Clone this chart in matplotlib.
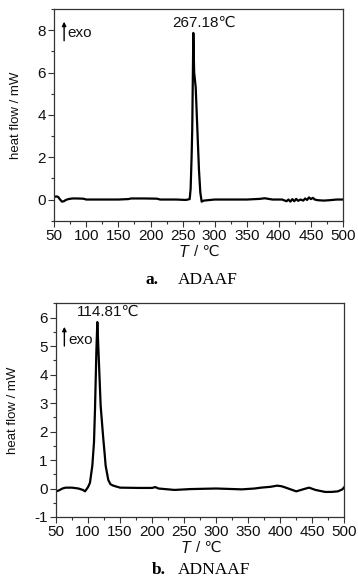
import matplotlib
matplotlib.use("Agg")
import matplotlib.pyplot as plt
from matplotlib.ticker import MultipleLocator

# DSC curve of ADAAF (panel a)
temp_a = [50, 53, 56, 59, 62, 65, 68, 72, 78, 85, 95, 100, 120, 150, 165, 170, 190, 210,
          215, 240, 255, 261, 262.5, 264, 265, 266.7, 268, 270.4, 273, 275.5, 277.6, 279.7,
          283, 300, 350, 370, 378, 390, 405, 412, 415, 418, 421, 424, 427, 430, 434, 438,
          441, 444, 447, 450, 453, 456, 460, 470, 480, 490, 500]
flow_a = [0.12, 0.15, 0.12, 0.0, -0.1, -0.08, -0.02, 0.02, 0.05, 0.05, 0.04, 0.0, 0.0, 0.0, 0.02,
          0.05, 0.05, 0.04, 0.0, 0.0, -0.02, 0.02, 0.5, 2.0, 3.3, 7.87, 6.0, 5.3, 3.3, 1.4, 0.33, -0.1,
          -0.05, 0.0, 0.0, 0.03, 0.06, 0.0, 0.0, -0.08, 0.0, -0.1, 0.02, -0.08, 0.03, -0.06, 0.0, -0.05,
          0.05, -0.02, 0.1, 0.02, 0.08, 0.0, -0.03, -0.05, -0.03, 0.0, 0.0]

# DSC curve of ADNAAF (panel b)
temp_b = [50, 53, 56, 60, 65, 75, 85, 92, 95.3, 100, 103, 106.7, 109.3, 110.9, 113, 114.5,
          116, 119.7, 123.8, 126, 127.5, 131.6, 135, 139.4, 150, 180, 200, 205, 210, 235,
          260, 300, 340, 360, 370, 385, 395, 402, 410, 425, 440, 445, 455, 470, 480, 490,
          497, 500]
flow_b = [-0.1, -0.08, -0.05, 0.0, 0.03, 0.03, 0.0, -0.05, -0.1, 0.05, 0.2, 0.8, 1.62, 2.8, 4.8,
          5.84, 5.0, 2.9, 1.75, 1.2, 0.8, 0.3, 0.15, 0.1, 0.03, 0.02, 0.02, 0.05, 0.0, -0.05,
          -0.02, 0.0, -0.03, 0.0, 0.03, 0.06, 0.1, 0.08, 0.02, -0.1, 0.0, 0.03, -0.05, -0.12,
          -0.12, -0.1, -0.03, 0.05]

peak_a = "267.18℃"
peak_b = "114.81℃"
captions = [("a.", "ADAAF"), ("b.", "ADNAAF")]

sans = ["Liberation Sans Narrow", "Liberation Sans", "DejaVu Sans"]
serif = ["Liberation Serif", "DejaVu Serif"]
plt.rcParams["font.family"] = sans
plt.rcParams["axes.unicode_minus"] = False

W, H = 358, 584
fig = plt.figure(figsize=(W / 100, H / 100), dpi=100)


def px_box(left, top, right, bottom):
    return [left / W, 1 - bottom / H, (right - left) / W, (bottom - top) / H]


def style_axes(ax, ylim, ymajor, yminor, xlab_y):
    ax.set_xlim(50, 500)
    ax.set_ylim(*ylim)
    ax.xaxis.set_major_locator(MultipleLocator(50))
    ax.xaxis.set_minor_locator(MultipleLocator(25))
    ax.yaxis.set_major_locator(MultipleLocator(ymajor))
    ax.yaxis.set_minor_locator(MultipleLocator(yminor))
    ax.tick_params(which="both", direction="out", top=False, right=False,
                   colors="#333333", labelcolor="#111111", width=0.8)
    ax.tick_params(which="major", length=4, labelsize=11, pad=2)
    ax.tick_params(which="minor", length=2)
    for s in ax.spines.values():
        s.set_color("#333333")
        s.set_linewidth(0.9)
    ax.set_ylabel("heat flow / mW", fontsize=9.5, color="#111111", labelpad=11)
    # x label built from pieces so the italic T and the ℃ sign both render
    ax.text(0.449, xlab_y, "T", transform=ax.transAxes, fontsize=11.5, style="italic",
            ha="center", va="center", color="#111111")
    ax.text(0.484, xlab_y, "/ ℃", transform=ax.transAxes, fontsize=11,
            ha="left", va="center", color="#111111")


def exo_mark(ax, x, y0, y1, tx, ty):
    ax.annotate("", xy=(x, y1), xytext=(x, y0), xycoords="axes fraction",
                arrowprops=dict(arrowstyle="-|>", color="black", lw=1.0,
                                mutation_scale=6, shrinkA=0, shrinkB=0))
    ax.text(tx, ty, "exo", transform=ax.transAxes, fontsize=11,
            ha="left", va="center", color="#111111")


# panel a
ax1 = fig.add_axes(px_box(54.3, 9, 343, 220.7))
ax1.plot(temp_a, flow_a, color="black", lw=1.6)
style_axes(ax1, (-1, 9), 2, 1, -0.148)
ax1.text(283, 8.33, peak_a, fontsize=11, ha="center", va="center", color="#111111")
exo_mark(ax1, 0.034, 0.85, 0.94, 0.046, 0.885)

# panel b
ax2 = fig.add_axes(px_box(56, 303.3, 344.3, 517))
ax2.plot(temp_b, flow_b, color="black", lw=1.6)
style_axes(ax2, (-1, 6.5), 1, 0.5, -0.146)
ax2.text(132, 6.19, peak_b, fontsize=11, ha="center", va="center", color="#111111")
exo_mark(ax2, 0.029, 0.80, 0.89, 0.043, 0.828)

# captions under each panel
for (lab, name), y, x0 in zip(captions, [280, 570], [145, 152]):
    fig.text(x0 / W, 1 - y / H, lab, fontsize=12.5, fontweight="bold",
             family=serif, ha="left", va="center")
    fig.text(178 / W, 1 - y / H, name, fontsize=12.5, family=serif,
             ha="left", va="center")

fig.savefig("out.png", dpi=100)
